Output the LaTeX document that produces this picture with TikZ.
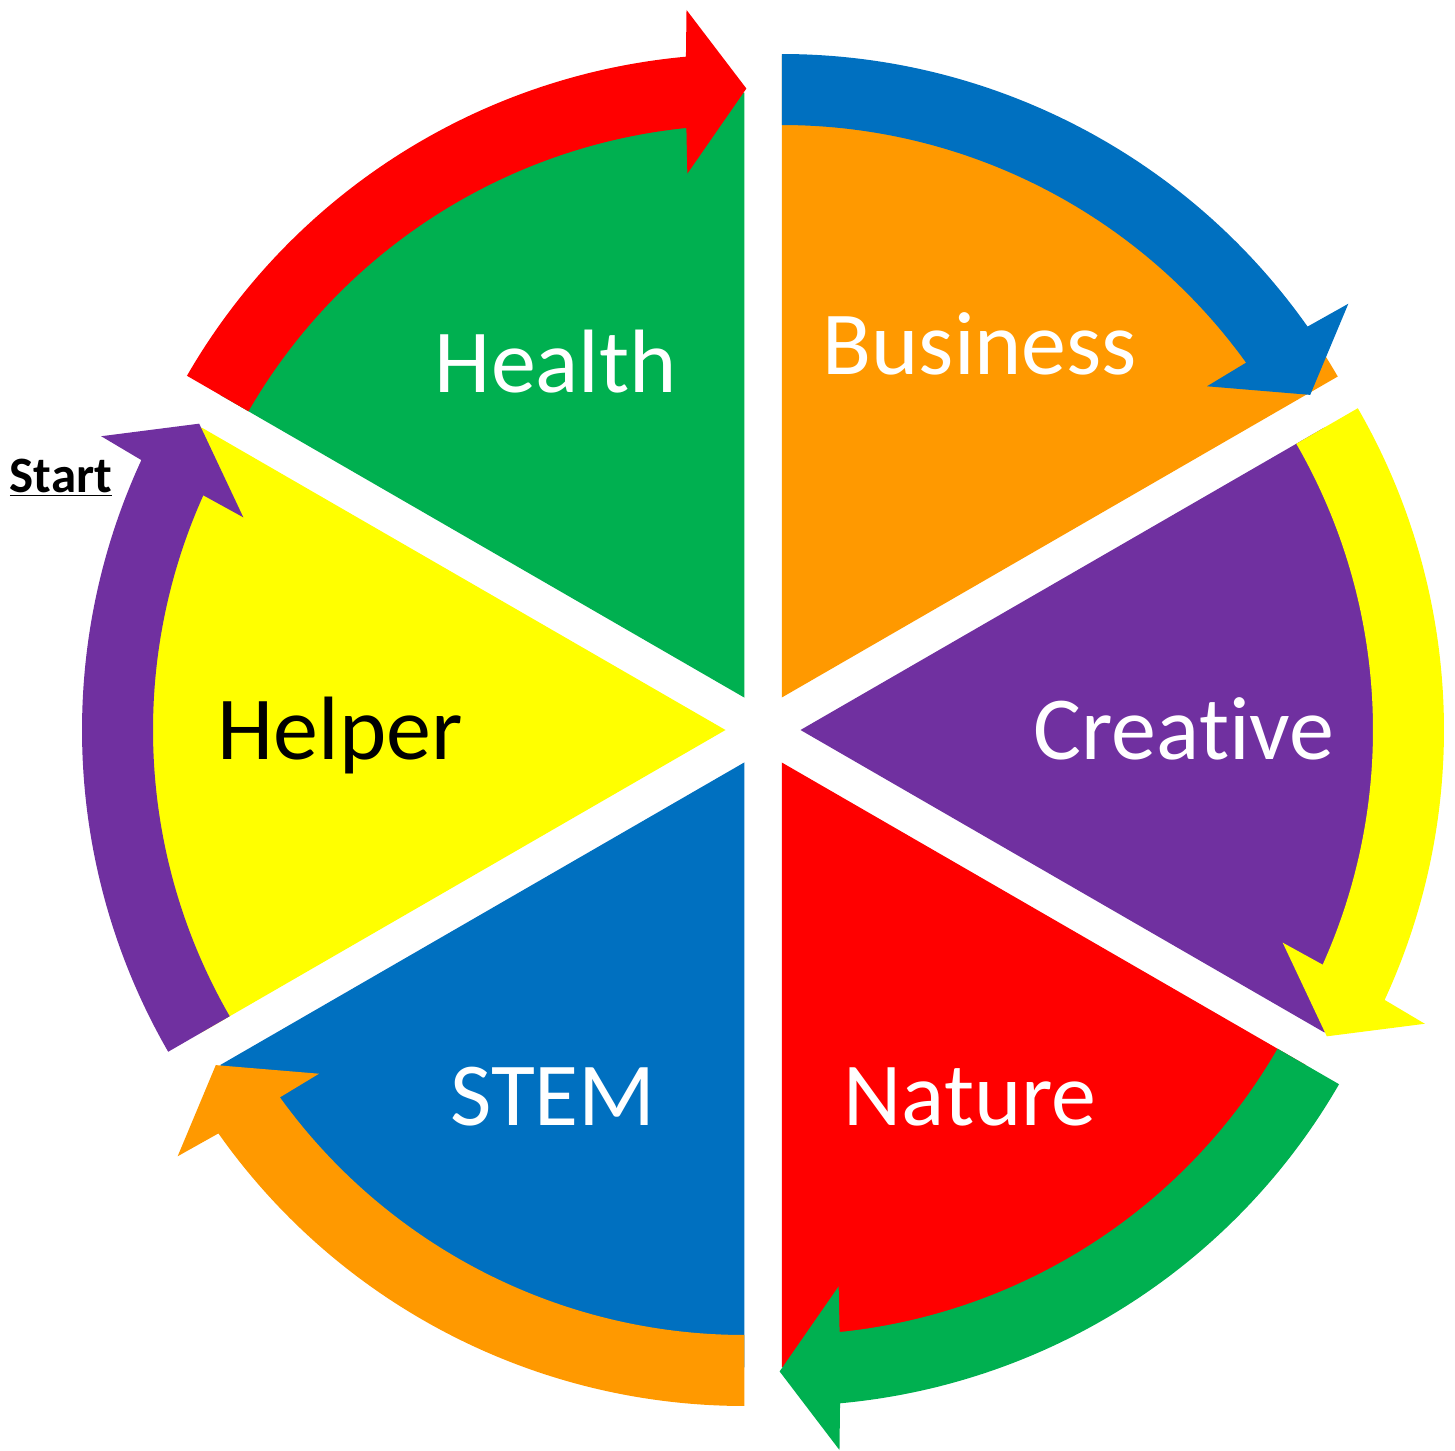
\documentclass[tikz,border=0pt]{standalone}
\usepackage{fontspec}
\setmainfont[Ligatures=NoCommon]{Carlito}
\definecolor{cgreen}{HTML}{00B050}
\definecolor{corange}{HTML}{FF9900}
\definecolor{cblue}{HTML}{0070C0}
\definecolor{cpurple}{HTML}{7030A0}
\definecolor{cred}{HTML}{FF0000}
\definecolor{cyellow}{HTML}{FFFF00}
\tikzset{
  lbl/.style={anchor=base, inner sep=0pt, font=\fontsize{90}{90}\selectfont},
}
\begin{document}
\begin{tikzpicture}
\useasboundingbox (-763pt,-720pt) rectangle (692pt,730pt);
% sectors (exploded pie slices)
\foreach \a/\sc/\rs in {150/cgreen/605, 90/corange/642, 30/cpurple/605, -30/cred/605, -90/cblue/605, -150/cyellow/605}{
  \pgfmathsetmacro\b{\a-30}
  \pgfmathsetmacro\e{\a-60}
  \begin{scope}[shift={(\b:37.5pt)}]
    \fill[\sc] (0,0) -- (\a:\rs pt) arc[start angle=\a, end angle=\e, radius=\rs pt] -- cycle;
  \end{scope}
}
% curved arrows
\foreach \a/\ac in {150/cred, 90/cblue, 30/cyellow, -30/cgreen, -90/corange, -150/cpurple}{
  \pgfmathsetmacro\b{\a-30}
  \pgfmathsetmacro\e{\a-60}
  \pgfmathsetmacro\ha{\a-60+5.2}
  \pgfmathsetmacro\ho{\a-60+4.8}
  \pgfmathsetmacro\tp{\a-60-0.2}
  \pgfmathsetmacro\hi{\a-60+6.2}
  \pgfmathsetmacro\hb{\a-60+5.8}
  \begin{scope}[shift={(\b:37.5pt)}]
    \fill[\ac] (\a:643.5pt) arc[start angle=\a, end angle=\ha, radius=643.5pt]
      -- (\ho:690pt) -- (\tp:609pt) -- (\hi:527pt) -- (\hb:572.5pt)
      arc[start angle=\hb, end angle=\a, radius=572.5pt] -- cycle;
  \end{scope}
}
% labels
\node[lbl, text=white] (health) at (-207pt,337pt) {Health};
\node[lbl, text=white] (business) at (217pt,355pt) {Business};
\node[lbl, text=white] (creative) at (421pt,-30pt) {Creative};
\node[lbl, text=black] (helper) at (-423pt,-30pt) {Helper};
\node[lbl, text=white] (stem) at (-210pt,-395pt) {STEM};
\node[lbl, text=white] (nature) at (207pt,-395pt) {Nature};
\node[anchor=base, inner sep=0pt, font=\fontsize{51}{51}\selectfont\bfseries] (start) at (-702pt,237pt) {\underline{Start}};
\end{tikzpicture}
\end{document}
